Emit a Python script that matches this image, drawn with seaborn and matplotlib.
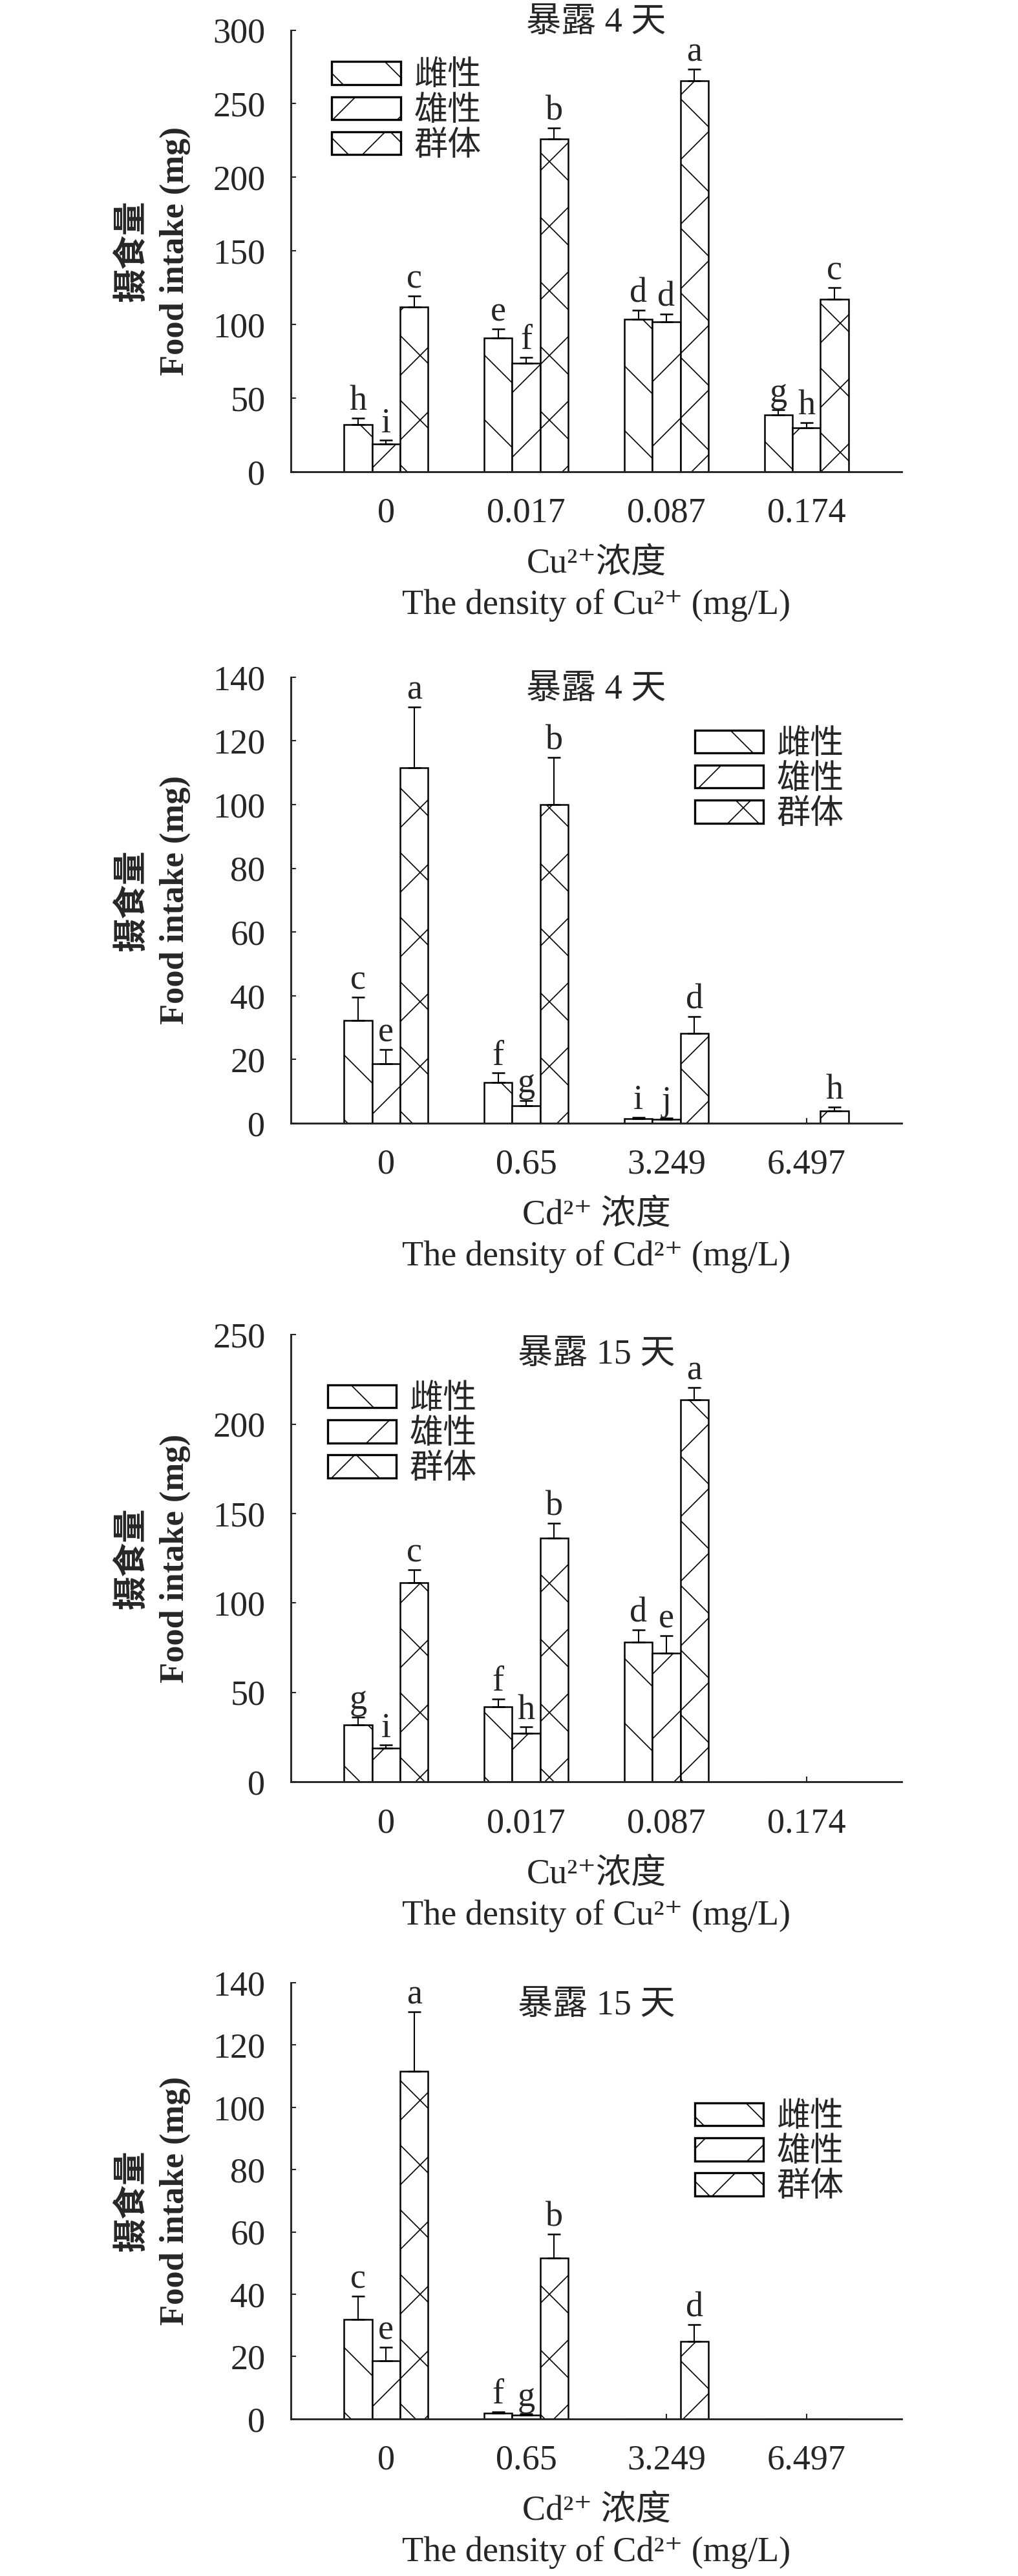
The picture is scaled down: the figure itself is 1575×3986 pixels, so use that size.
import numpy as np
import pandas as pd
import seaborn as sns
import matplotlib.pyplot as plt
from matplotlib.patches import Patch

sns.set_style('ticks')
plt.rcParams['font.family'] = ['Liberation Serif', 'Noto Sans CJK SC', 'DejaVu Serif']
plt.rcParams['hatch.linewidth'] = 0.4
plt.rcParams['hatch.color'] = 'black'

# groups and their hatch patterns
sexes = ['雌性', '雄性', '群体']
hatches = ['\\', '/', 'x']

conc_cu = ['0', '0.017', '0.087', '0.174']
conc_cd = ['0', '0.65', '3.249', '6.497']

# Cu, 4 days
cu4_female = [32.0, 91.0, 103.6, 38.6]
cu4_female_err = [4.5, 5.9, 6.3, 3.4]
cu4_male = [18.8, 73.5, 102.0, 29.8]
cu4_male_err = [2.5, 4.3, 5.0, 3.6]
cu4_group = [111.7, 226.0, 265.7, 117.3]
cu4_group_err = [7.6, 7.6, 7.6, 7.6]
cu4_let_female = ['h', 'e', 'd', 'g']
cu4_let_male = ['i', 'f', 'd', 'h']
cu4_let_group = ['c', 'b', 'a', 'c']

# Cd, 4 days
cd4_female = [32.2, 12.8, 1.3, 0]
cd4_female_err = [7.4, 3.0, 0.6, 0]
cd4_male = [18.7, 5.5, 1.2, 0]
cd4_male_err = [4.5, 1.6, 0.4, 0]
cd4_group = [111.6, 100.0, 28.1, 3.9]
cd4_group_err = [19.1, 14.9, 5.4, 1.2]
cd4_let_female = ['c', 'f', 'i', '']
cd4_let_male = ['e', 'g', 'j', '']
cd4_let_group = ['a', 'b', 'd', 'h']

# Cu, 15 days
cu15_female = [31.8, 42.0, 78.1, 0]
cu15_female_err = [4.4, 4.4, 7.0, 0]
cu15_male = [18.8, 27.0, 72.0, 0]
cu15_male_err = [1.8, 3.6, 9.6, 0]
cu15_group = [111.2, 136.1, 213.5, 0]
cu15_group_err = [7.5, 8.4, 7.0, 0]
cu15_let_female = ['g', 'f', 'd', '']
cu15_let_male = ['i', 'h', 'e', '']
cu15_let_group = ['c', 'b', 'a', '']

# Cd, 15 days
cd15_female = [32.0, 1.9, 0, 0]
cd15_female_err = [7.4, 0.4, 0, 0]
cd15_male = [18.7, 1.2, 0, 0]
cd15_male_err = [4.3, 0.4, 0, 0]
cd15_group = [111.5, 51.6, 24.8, 0]
cd15_group_err = [19.2, 7.7, 5.4, 0]
cd15_let_female = ['c', 'f', '', '']
cd15_let_male = ['e', 'g', '', '']
cd15_let_group = ['a', 'b', 'd', '']

fig = plt.figure(figsize=(5.25, 13.2867), dpi=300)


def panel(rect, conc, vals, errs, lets, ymax, ystep, xlab1, xlab2, title, title_off, leg_anchor):
    ax = fig.add_axes(rect)
    df = pd.DataFrame({
        'conc': conc * 3,
        'sex': np.repeat(sexes, len(conc)),
        'value': vals[0] + vals[1] + vals[2],
    })
    sns.barplot(data=df, x='conc', y='value', hue='sex', order=conc, hue_order=sexes,
                palette={s: 'white' for s in sexes}, saturation=1, edgecolor='black',
                linewidth=0.6, width=0.6, gap=0, errorbar=None, legend=False, ax=ax)

    for cont, h, v, e, t in zip(ax.containers, hatches, vals, errs, lets):
        xs, ys, es = [], [], []
        for bar, vi, ei, ti in zip(cont, v, e, t):
            bar.set_hatch(h)
            xc = bar.get_x() + bar.get_width() / 2
            if vi > 0:
                xs.append(xc)
                ys.append(vi)
                es.append(ei)
            if ti:
                ax.annotate(ti, (xc, vi + ei), xytext=(0, 3), textcoords='offset points',
                            ha='center', va='baseline', fontsize=13)
        ax.errorbar(xs, ys, yerr=[np.zeros(len(es)), es], fmt='none', ecolor='black',
                    elinewidth=0.5, capsize=2.3, capthick=0.6)

    ax.set_xlim(-0.68, len(conc) - 0.32)
    ax.set_ylim(0, ymax)
    ax.set_yticks(np.arange(0, ymax + 1, ystep))
    ax.set_xlabel('')
    ax.set_ylabel('')
    sns.despine(ax=ax)
    for sp in ['left', 'bottom']:
        ax.spines[sp].set_linewidth(0.7)
    ax.tick_params(axis='both', direction='in', length=2, width=0.5, labelsize=13)
    ax.tick_params(axis='y', pad=9.5)
    ax.tick_params(axis='x', pad=9.5)

    # axis titles
    ax.annotate(xlab1, (0.5, 0), xycoords='axes fraction', xytext=(0, -34.3),
                textcoords='offset points', ha='center', va='center', fontsize=13)
    ax.annotate(xlab2, (0.5, 0), xycoords='axes fraction', xytext=(0, -49.7),
                textcoords='offset points', ha='center', va='center', fontsize=13)
    ax.annotate('摄食量', (0, 0.5), xycoords='axes fraction', xytext=(-59, 0),
                textcoords='offset points', ha='center', va='center', rotation=90,
                fontsize=12.6, fontweight='bold')
    ax.annotate('Food intake (mg)', (0, 0.5), xycoords='axes fraction', xytext=(-43, 0),
                textcoords='offset points', ha='center', va='center', rotation=90,
                fontsize=12.6, fontweight='bold')
    ax.annotate(title, (0.5, 1), xycoords='axes fraction', xytext=(0, title_off),
                textcoords='offset points', ha='center', va='center', fontsize=13)

    handles = [Patch(facecolor='white', edgecolor='black', hatch=h, linewidth=0.8, label=s)
               for s, h in zip(sexes, hatches)]
    ax.legend(handles=handles, loc='upper left', bbox_to_anchor=leg_anchor, frameon=False,
              fontsize=12.5, borderpad=0, borderaxespad=0, handlelength=2.04,
              handleheight=0.67, handletextpad=0.4, labelspacing=0.12)
    return ax


panel([0.2857, 0.8169, 0.6, 0.1714], conc_cu,
      [cu4_female, cu4_male, cu4_group],
      [cu4_female_err, cu4_male_err, cu4_group_err],
      [cu4_let_female, cu4_let_male, cu4_let_group],
      300, 50, 'Cu²⁺浓度', 'The density of Cu²⁺ (mg/L)', '暴露 4 天', 2.6, (0.067, 0.930))

panel([0.2857, 0.5640, 0.6, 0.1731], conc_cd,
      [cd4_female, cd4_male, cd4_group],
      [cd4_female_err, cd4_male_err, cd4_group_err],
      [cd4_let_female, cd4_let_male, cd4_let_group],
      140, 20, 'Cd²⁺ 浓度', 'The density of Cd²⁺ (mg/L)', '暴露 4 天', -4.8, (0.661, 0.883))

panel([0.2857, 0.3083, 0.6, 0.1736], conc_cu,
      [cu15_female, cu15_male, cu15_group],
      [cu15_female_err, cu15_male_err, cu15_group_err],
      [cu15_let_female, cu15_let_male, cu15_let_group],
      250, 50, 'Cu²⁺浓度', 'The density of Cu²⁺ (mg/L)', '暴露 15 天', -7.7, (0.060, 0.889))

panel([0.2857, 0.0610, 0.6, 0.1693], conc_cd,
      [cd15_female, cd15_male, cd15_group],
      [cd15_female_err, cd15_male_err, cd15_group_err],
      [cd15_let_female, cd15_let_male, cd15_let_group],
      140, 20, 'Cd²⁺ 浓度', 'The density of Cd²⁺ (mg/L)', '暴露 15 天', -8.6, (0.661, 0.726))

fig.savefig('out.png', dpi=300, facecolor='white')
